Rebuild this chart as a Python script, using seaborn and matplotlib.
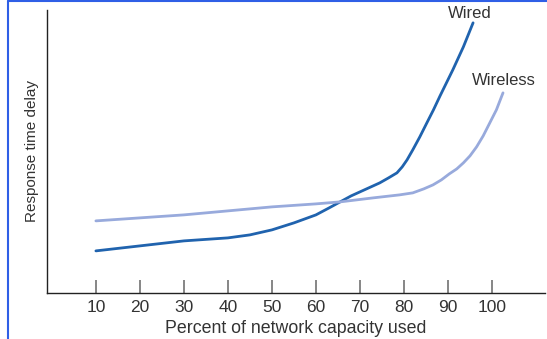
import numpy as np
import pandas as pd
import matplotlib.pyplot as plt
import seaborn as sns
from matplotlib.lines import Line2D

# Percent of capacity vs. delay (arbitrary units)
wired_x = [10, 20, 30, 40, 45, 50, 55, 60, 63, 65.5, 68, 70, 72.5, 74.5, 76.5, 78.4,
           79.6, 80.7, 82, 83.6, 85.2, 86.7, 88.2, 91.1, 93.5, 95.7]
wired_y = [42, 47, 52, 55, 58, 63, 70, 78, 85, 91, 97, 101, 106, 110, 115, 120,
           126, 133, 143, 156, 170, 183, 197, 223, 246, 270]

wireless_x = [10, 20, 30, 40, 50, 60, 65.5, 73, 79, 82, 84.5, 86.6, 88.5, 90.3, 92,
              93.5, 95, 96.5, 98, 99.5, 101, 102.5]
wireless_y = [72, 75, 78, 82, 86, 89, 91, 95, 98, 100, 104, 108, 113, 119, 124,
              130, 137, 146, 157, 170, 183, 200]

ticks = [10, 20, 30, 40, 50, 60, 70, 80, 90, 100]

wired_color = '#2063ae'
wireless_color = '#98aadc'

sns.set_theme(style='white')
plt.rcParams['font.family'] = ['Liberation Sans', 'DejaVu Sans']

fig = plt.figure(figsize=(5.47, 3.39), dpi=100)
ax = fig.add_axes([0.086, 0.136, 0.91, 0.835])

sns.lineplot(x=wired_x, y=wired_y, ax=ax, color=wired_color, linewidth=2.0, sort=False)
sns.lineplot(x=wireless_x, y=wireless_y, ax=ax, color=wireless_color, linewidth=2.0, sort=False)

# curve names
ax.text(95, 279, 'Wired', ha='center', va='center', fontsize=12, color='#333333')
ax.text(95.5, 212, 'Wireless', ha='left', va='center', fontsize=12, color='#333333')

ax.set_xlim(-1.1, 112)
ax.set_ylim(0, 283)
ax.set_xticks(ticks)
ax.set_xticklabels([str(t) for t in ticks])
ax.set_yticks([])
ax.tick_params(axis='x', direction='in', length=9.5, width=1.1, color='#666666',
               labelsize=12.5, labelcolor='#333333', pad=5, bottom=True)

for side in ['top', 'right']:
    ax.spines[side].set_visible(False)
for side in ['left', 'bottom']:
    ax.spines[side].set_color('#222222')
    ax.spines[side].set_linewidth(1.0)

ax.set_xlabel('Percent of network capacity used', fontsize=12.8, color='#333333', labelpad=4)
ax.set_ylabel('Response time delay', fontsize=11, color='#333333', labelpad=6)

# blue frame on left and top
fig.add_artist(Line2D([0.0146, 0.0146], [0, 0.996], transform=fig.transFigure,
                      color='#2f5fe6', linewidth=1.5))
fig.add_artist(Line2D([0.0146, 1.0], [0.996, 0.996], transform=fig.transFigure,
                      color='#2f5fe6', linewidth=1.5))

fig.savefig('out.png', dpi=100)
